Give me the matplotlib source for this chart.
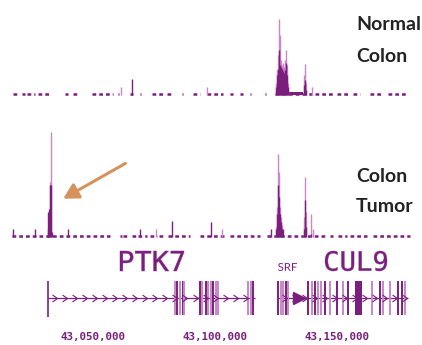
# ChIP signal over the PTK7 / SRF / CUL9 region, normal vs tumour colon
import numpy as np
import matplotlib.pyplot as plt
from matplotlib.path import Path
from matplotlib.patches import PathPatch
from matplotlib.textpath import TextPath
from matplotlib.font_manager import FontProperties
from matplotlib.transforms import Affine2D

DARK = '#7b1f7f'
LIGHT = '#c987c9'
ARROW = '#d4935c'

# genome positions in kb (chr6)
x_range = (43011.9, 43184.8)
tick_pos = [43050, 43100, 43150]
tick_labels = ['43,050,000', '43,100,000', '43,150,000']

# normal colon: background coverage and peaks
normal_base = [(43017.3, 43019.4), (43020.8, 43022.1), (43022.8, 43026.2), (43027.6, 43032.4),
               (43038.5, 43039.9), (43041.9, 43044.0), (43049.5, 43058.3), (43060.4, 43060.8),
               (43065.2, 43066.5), (43069.3, 43069.6), (43074.1, 43078.8), (43080.2, 43082.3),
               (43086.3, 43087.0), (43091.1, 43093.8), (43096.6, 43103.4), (43106.1, 43107.5),
               (43110.2, 43111.6), (43114.3, 43114.6), (43120.5, 43120.8), (43124.6, 43139.6),
               (43141.0, 43148.5), (43149.9, 43155.3), (43156.7, 43159.4), (43163.5, 43169.0),
               (43171.0, 43179.2)]
normal_pos = [43061.5, 43066.0, 43096.7, 43125.0, 43125.4, 43125.8, 43126.2, 43126.6, 43127.0,
              43127.5, 43127.9, 43128.3, 43128.7, 43129.1, 43129.5, 43129.9, 43136.5, 43136.9,
              43137.3, 43139.7]
normal_light = [8, 0, 8, 12, 25, 40, 76, 60, 35, 30, 32, 28, 35, 45, 30, 12, 20, 31, 12, 8]
normal_dark = [0, 16, 0, 8, 20, 26, 45, 30, 28, 26, 24, 22, 25, 32, 20, 8, 10, 15, 5, 0]
normal_shelf = (43130.3, 43136.2)

# colon tumour
tumor_base = [(43017.0, 43057.0), (43061.1, 43061.8), (43062.4, 43063.8), (43065.9, 43067.9),
              (43068.6, 43072.0), (43073.4, 43076.1), (43077.2, 43079.5), (43080.9, 43089.8),
              (43093.8, 43104.8), (43106.1, 43118.4), (43121.2, 43145.1), (43147.1, 43148.5),
              (43150.5, 43154.0), (43155.3, 43162.2), (43164.9, 43179.9)]
tumor_pos = [43017.2, 43026.2, 43031.4, 43031.6, 43032.0, 43032.5, 43032.9, 43033.3, 43039.8,
             43069.3, 43075.8, 43082.4, 43098.4, 43102.9, 43122.9, 43125.0, 43125.4, 43125.8,
             43126.2, 43126.6, 43127.0, 43127.5, 43127.9, 43136.5, 43136.9, 43137.3, 43139.3,
             43140.1]
tumor_light = [0, 0, 0, 0, 0, 55, 105, 0, 0, 0, 8, 0, 0, 8, 0, 10, 30, 83, 65, 30, 20, 12, 0,
               20, 60, 25, 23, 8]
tumor_dark = [8, 8, 8, 25, 28, 52, 52, 5, 8, 8, 0, 16, 15, 0, 8, 8, 23, 52, 40, 23, 15, 8, 8,
              8, 37, 10, 3, 0]

# gene models
ptk7_span = (43031.6, 43116.4)
ptk7_exons = [43083.6, 43084.4, 43085.7, 43086.9, 43087.3, 43093.8, 43094.7, 43096.3, 43097.1,
              43098.4, 43099.2, 43100.4, 43101.2, 43113.5, 43114.7, 43115.6]
ptk7_dark = [0, 1, 0, 1, 0, 1, 0, 1, 0, 0, 1, 0, 0, 0, 0, 1]
cul9_span = (43125.8, 43179.1)
cul9_exons = [43125.8, 43127.0, 43127.9, 43129.1, 43129.9, 43138.1, 43139.7, 43141.0, 43142.2,
              43143.4, 43145.1, 43147.1, 43150.0, 43152.5, 43154.5, 43164.3, 43167.6, 43168.8,
              43171.7, 43175.0, 43176.6, 43177.9]
cul9_dark = [1, 0, 0, 1, 0, 1, 0, 1, 0, 0, 1, 0, 1, 0, 1, 0, 1, 0, 0, 1, 1, 0]
cul9_block = (43157.4, 43160.1)
srf_arrow = 43134.3

fig = plt.figure(figsize=(4.22, 3.45), dpi=100)
H = 345.0
KB_PER_PX = (x_range[1] - x_range[0]) / 422.0


def px_to_kb(px):
    return x_range[0] + px * KB_PER_PX


def track_axes(top, bottom):
    ax = fig.add_axes([0, 1 - bottom / H, 1, (bottom - top) / H])
    ax.set_xlim(*x_range)
    ax.axis('off')
    return ax


def draw_signal(ax, base, pos, light, dark):
    for a, b in base:
        ax.hlines(1, a, b, color=DARK, lw=1.8, linestyles=(0, (1.5, 1.2)))
    ax.vlines(pos, 0, light, color=LIGHT, lw=1.0)
    ax.vlines(pos, 0, dark, color=DARK, lw=1.0)


def gene_label(ax, s, x0, x1, y_top, y_bot, family='DejaVu Sans Mono', edge=0.3):
    # text squeezed into a box (x in kb, y in the flipped track units)
    tp = TextPath((0, 0), s, size=1, prop=FontProperties(family=family))
    bb = tp.get_extents()
    sx = (x1 - x0) / bb.width
    sy = (y_bot - y_top) / bb.height
    tr = Affine2D().translate(-bb.x0, -bb.y0).scale(sx, -sy).translate(x0, y_bot)
    ax.add_patch(PathPatch(tr.transform_path(tp), fc=DARK, ec=DARK, lw=edge))


label_kw = dict(fontsize=14, fontweight='bold', family='Lato', color='#222222', va='center')
lab_x = px_to_kb(356)

# normal colon
ax1 = track_axes(0, 100)
ax1.set_ylim(-5, 95)
draw_signal(ax1, normal_base, normal_pos, normal_light, normal_dark)
ax1.fill_between(normal_shelf, 0, 3, color=DARK, lw=0)
ax1.text(lab_x, 70, 'Normal', **label_kw)
ax1.text(lab_x, 39, 'Colon', **label_kw)

# colon tumour
ax2 = track_axes(110, 242)
ax2.set_ylim(-5, 127)
draw_signal(ax2, tumor_base, tumor_pos, tumor_light, tumor_dark)
ax2.text(lab_x, 61, 'Colon', **label_kw)
ax2.text(lab_x, 31, 'Tumor', **label_kw)
ax2.annotate('', xy=(43036.8, 37), xytext=(43064.3, 75),
             arrowprops=dict(arrowstyle='-|>,head_length=0.9,head_width=0.5', color=ARROW, lw=2.2))

# gene track
ax3 = track_axes(245, 345)
ax3.set_ylim(100, 0)
line_y = 53
ax3.hlines(line_y, *ptk7_span, color=DARK, lw=0.9)
ax3.hlines(line_y, *cul9_span, color=DARK, lw=0.9)
ax3.vlines(ptk7_span[0], 36, 72, color=DARK, lw=1.2)
for xe, d in zip(ptk7_exons, ptk7_dark):
    ax3.vlines(xe, 36, 70, color=DARK if d else LIGHT, lw=1.4)
for xe, d in zip(cul9_exons, cul9_dark):
    ax3.vlines(xe, 36, 70, color=DARK if d else LIGHT, lw=1.4)
ax3.fill_between(cul9_block, 36, 70, color=DARK, lw=0)
ax3.plot([srf_arrow], [line_y], marker='>', ms=9, color=DARK)

# intron direction chevrons
chev = Path([(-0.6, 0.7), (0.4, 0), (-0.6, -0.7)], [Path.MOVETO, Path.LINETO, Path.LINETO])
chev1 = np.arange(ptk7_span[0] + 3.0, ptk7_span[1] - 1, 4.1)
chev2 = np.arange(cul9_span[0] + 3.0, cul9_span[1] - 1, 4.1)
for cx in (chev1, chev2):
    ax3.plot(cx, [line_y] * len(cx), ls='none', marker=chev, ms=5, mfc='none', mec=DARK, mew=0.8)

gene_label(ax3, 'PTK7', px_to_kb(120), px_to_kb(184), 6, 26)
gene_label(ax3, 'CUL9', px_to_kb(325), px_to_kb(387), 6, 26)
gene_label(ax3, 'SRF', px_to_kb(278), px_to_kb(297), 18, 26, family='Lato', edge=0)
for p, lab in zip(tick_pos, tick_labels):
    ax3.text(p, 92, lab, fontsize=7.8, fontweight='bold', family='DejaVu Sans Mono', color=DARK,
             ha='center', va='center')

fig.savefig('out.png', dpi=100)
